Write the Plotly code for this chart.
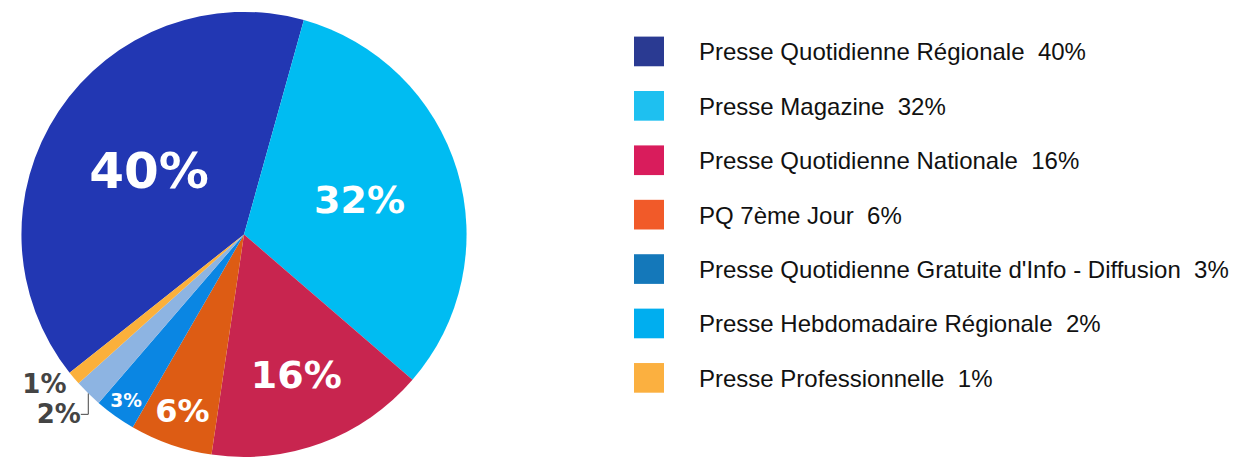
import plotly.graph_objects as go

categories = [
    "Presse Quotidienne Régionale",
    "Presse Magazine",
    "Presse Quotidienne Nationale",
    "PQ 7ème Jour",
    "Presse Quotidienne Gratuite d'Info - Diffusion",
    "Presse Hebdomadaire Régionale",
    "Presse Professionnelle",
]
values = [40, 32, 16, 6, 3, 2, 1]
slice_colors = ["#2237B3", "#00BCF2", "#C8254F", "#DD5C14", "#0A86E3", "#8DB4E2", "#FBB03B"]
legend_colors = ["#2A3A92", "#1EC0F0", "#D91C5C", "#F15A29", "#1478BA", "#00AEEF", "#FBB040"]
label_sizes = [50, 38, 38, 32, 26, 26, 26]
text_positions = ["inside", "inside", "inside", "inside", "inside", "outside", "outside"]
text_colors = ["white", "white", "white", "white", "white", "#444444", "#444444"]

W, H = 1233, 462

fig = go.Figure()
fig.add_trace(go.Pie(
    labels=categories,
    values=values,
    sort=False,
    direction="clockwise",
    rotation=231.6,
    marker=dict(colors=slice_colors, line=dict(width=0)),
    texttemplate="%{value}%",
    textposition=text_positions,
    insidetextorientation="horizontal",
    textfont=dict(family="DejaVu Sans", size=label_sizes, color=text_colors, weight="bold"),
    outsidetextfont=dict(family="DejaVu Sans", size=label_sizes, color="#444444", weight="bold"),
    domain=dict(x=[0.01541, 0.38037], y=[0, 0.974]),
    showlegend=False,
    hoverinfo="label+percent",
))

# custom legend (large square swatches)
sw_x0, sw_size, row0, row_step, text_x = 634, 30, 52, 55, 697
for i, (cat, v, c) in enumerate(zip(categories, values, legend_colors)):
    yc = row0 + i * row_step
    fig.add_shape(type="rect", xref="paper", yref="paper",
                  x0=sw_x0 / W, x1=(sw_x0 + sw_size) / W,
                  y0=1 - (yc + sw_size / 2) / H, y1=1 - (yc - sw_size / 2) / H,
                  fillcolor=c, line=dict(width=0))
    fig.add_annotation(xref="paper", yref="paper", x=text_x / W, y=1 - (yc + 0.5) / H,
                       xanchor="left", yanchor="middle", showarrow=False,
                       text=f"{cat}\u00a0\u00a0{v}%",
                       font=dict(family="Liberation Sans", size=24, color="#111111"))

fig.update_layout(
    width=W, height=H,
    margin=dict(l=0, r=0, t=0, b=0),
    paper_bgcolor="white", plot_bgcolor="white",
    showlegend=False,
)
fig.write_html("out.html", config={"displayModeBar": False},
               post_script="document.body.style.margin='0';")
